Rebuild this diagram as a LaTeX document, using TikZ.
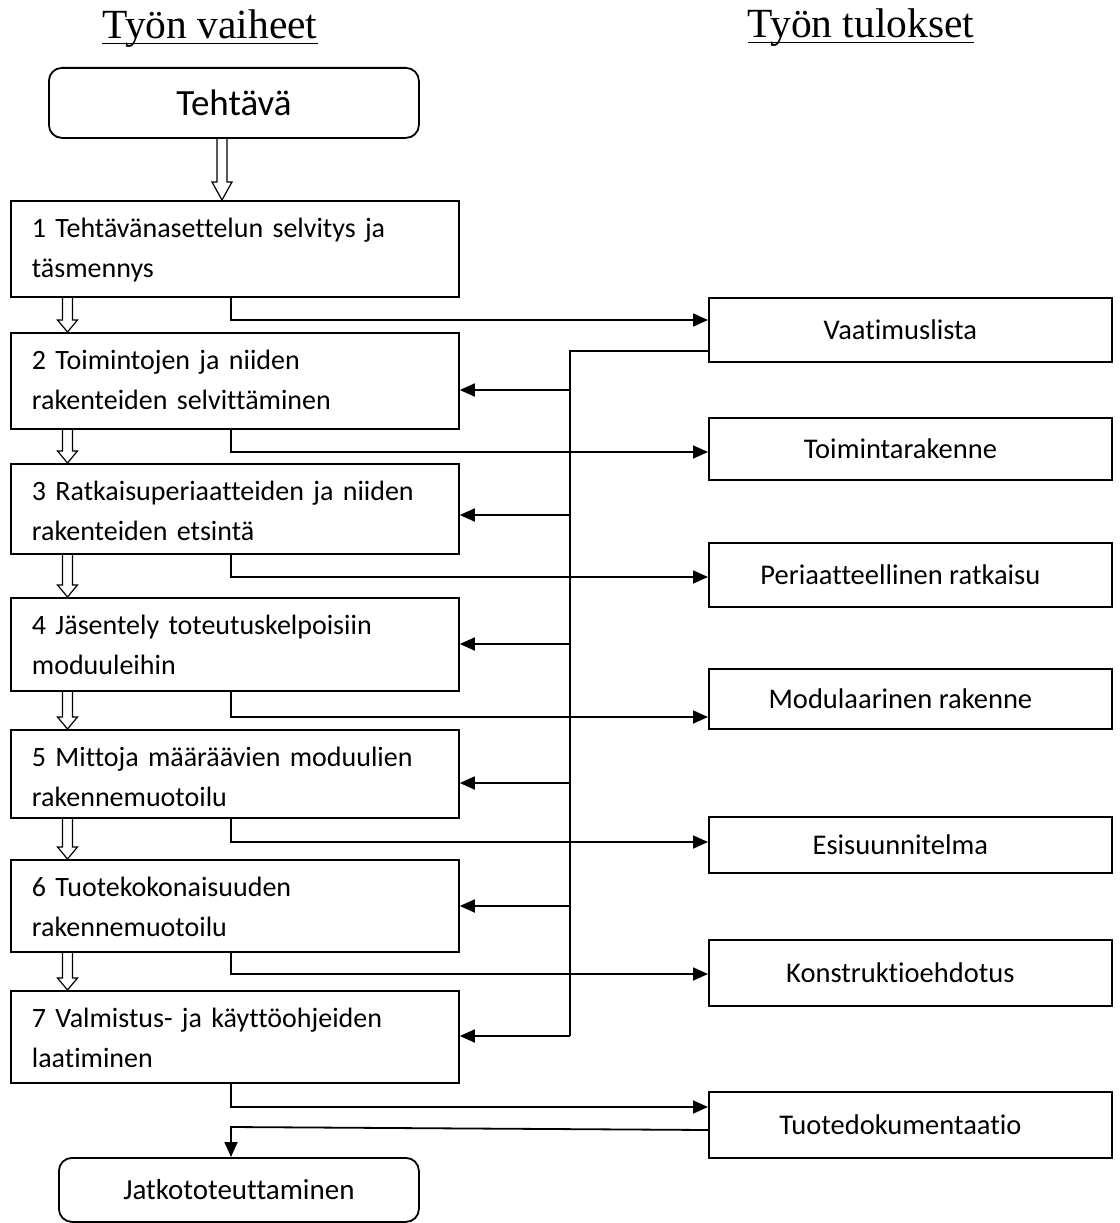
\documentclass[tikz,border=0pt]{standalone}
\usepackage{fontspec}
\setmainfont{Carlito}[Ligatures=NoCommon]
\newfontfamily\titlefont{Liberation Serif}
\usetikzlibrary{arrows.meta,calc}
\pgfdeclarelayer{background}
\pgfsetlayers{background,main}
\newcommand{\hollowarr}[3]{%
  \path[draw, fill=white, line width=1.2pt] let \p1=#1, \p2=#2 in
    (\x1-5pt,\y1) -- (\x1-5pt,\y2+#3) -- (\x1-10pt,\y2+#3) -- (\x1,\y2)
    -- (\x1+10pt,\y2+#3) -- (\x1+5pt,\y2+#3) -- (\x1+5pt,\y1);}
\begin{document}
\begin{tikzpicture}[x=1pt,y=-1pt,
  lbox/.style={draw, line width=1.8pt, anchor=north west, inner xsep=21pt, inner ysep=0pt,
    text width=406pt, align=left, text height=36.5pt, text depth=#1,
    font=\fontsize{28}{40}\selectfont},
  rbox/.style={draw, line width=1.8pt, anchor=north west, minimum width=403pt,
    minimum height=#1, inner sep=0pt},
  rlab/.style={xshift=-10pt, font=\fontsize{28.5}{34}\selectfont},
  rnd/.style={draw, line width=1.8pt, anchor=north west, rounded corners=13pt, inner sep=0pt},
  conn/.style={line width=1.8pt, -{Triangle[length=15pt,width=13pt]}},
  plain/.style={line width=1.8pt},
  ttl/.style={font=\titlefont\fontsize{41.5}{48}\selectfont, anchor=base, inner sep=0pt},
]
\useasboundingbox (0,0) rectangle (1119,1223);

% titles
\node[ttl] (t1) at (210,39) {Työn vaiheet};
\node[ttl] (t2) at (861,38) {Työn tulokset};
\draw[plain] ([yshift=-4.5pt]t1.base west) -- ([yshift=-4.5pt]t1.base east);
\draw[plain] ([yshift=-4.5pt]t2.base west) -- ([yshift=-4.5pt]t2.base east);

% start / end
\node[rnd, minimum width=370pt, minimum height=70pt, font=\fontsize{37}{42}\selectfont] (task) at (48,67) {Tehtävä};
\node[rnd, minimum width=360pt, minimum height=64pt, font=\fontsize{29}{34}\selectfont] (jatko) at (58,1157) {Jatkototeuttaminen};

% left column
\node[lbox=59.5pt] (b1) at (10,200) {1 Tehtävänasettelun selvitys ja\\täsmennys};
\node[lbox=59.5pt] (b2) at (10,332) {2 Toimintojen ja niiden\\rakenteiden selvittäminen};
\node[lbox=53.5pt] (b3) at (10,463) {3 Ratkaisuperiaatteiden ja niiden\\rakenteiden etsintä};
\node[lbox=56.5pt] (b4) at (10,597) {4 Jäsentely toteutuskelpoisiin\\moduuleihin};
\node[lbox=51.5pt] (b5) at (10,729) {5 Mittoja määräävien moduulien\\rakennemuotoilu};
\node[lbox=55.5pt] (b6) at (10,859) {6 Tuotekokonaisuuden\\rakennemuotoilu};
\node[lbox=55.5pt] (b7) at (10,990) {7 Valmistus- ja käyttöohjeiden\\laatiminen};

% right column
\node[rbox=64pt, label={[rlab]center:Vaatimuslista}] (r1) at (708,297) {};
\node[rbox=62pt, label={[rlab]center:Toimintarakenne}] (r2) at (708,417) {};
\node[rbox=64pt, label={[rlab]center:Periaatteellinen ratkaisu}] (r3) at (708,542) {};
\node[rbox=60pt, label={[rlab]center:Modulaarinen rakenne}] (r4) at (708,668) {};
\node[rbox=56pt, label={[rlab]center:Esisuunnitelma}] (r5) at (708,816) {};
\node[rbox=66pt, label={[rlab]center:Konstruktioehdotus}] (r6) at (708,939) {};
\node[rbox=66pt, label={[rlab]center:Tuotedokumentaatio}] (r7) at (708,1091) {};

% hollow arrows
\coordinate (hx0) at (222,0);
\coordinate (hx) at (67.5,0);
\begin{pgfonlayer}{background}
\hollowarr{(task.south -| hx0)}{(b1.north -| hx0)}{18pt}
\hollowarr{(b1.south -| hx)}{(b2.north -| hx)}{12pt}
\hollowarr{(b2.south -| hx)}{(b3.north -| hx)}{12pt}
\hollowarr{(b3.south -| hx)}{(b4.north -| hx)}{12pt}
\hollowarr{(b4.south -| hx)}{(b5.north -| hx)}{12pt}
\hollowarr{(b5.south -| hx)}{(b6.north -| hx)}{12pt}
\hollowarr{(b6.south -| hx)}{(b7.north -| hx)}{12pt}
\end{pgfonlayer}

% outputs
\coordinate (o1) at (231,320);
\coordinate (o2) at (231,452);
\coordinate (o3) at (231,577);
\coordinate (o4) at (231,717);
\coordinate (o5) at (231,842);
\coordinate (o6) at (231,974);
\coordinate (o7) at (231,1107);
\draw[conn] (b1.south -| o1) |- (r1.west |- o1);
\draw[conn] (b2.south -| o2) |- (r2.west |- o2);
\draw[conn] (b3.south -| o3) |- (r3.west |- o3);
\draw[conn] (b4.south -| o4) |- (r4.west |- o4);
\draw[conn] (b5.south -| o5) |- (r5.west |- o5);
\draw[conn] (b6.south -| o6) |- (r6.west |- o6);
\draw[conn] (b7.south -| o7) |- (r7.west |- o7);

% feedback from requirement list
\coordinate (f1) at (570,351);
\coordinate (f2) at (570,390);
\coordinate (f3) at (570,515);
\coordinate (f4) at (570,644);
\coordinate (f5) at (570,783);
\coordinate (f6) at (570,906);
\coordinate (f7) at (570,1036);
\draw[plain] (r1.west |- f1) -- (f1) -- (f7);
\draw[conn] (f2) -- (b2.east |- f2);
\draw[conn] (f3) -- (b3.east |- f3);
\draw[conn] (f4) -- (b4.east |- f4);
\draw[conn] (f5) -- (b5.east |- f5);
\draw[conn] (f6) -- (b6.east |- f6);
\draw[conn] (f7) -- (b7.east |- f7);

% documentation to continuation
\coordinate (d0) at (0,1130);
\coordinate (d1) at (231,1127);
\draw[conn] (r7.west |- d0) -- (d1) -- (d1 |- jatko.north);
\end{tikzpicture}
\end{document}
